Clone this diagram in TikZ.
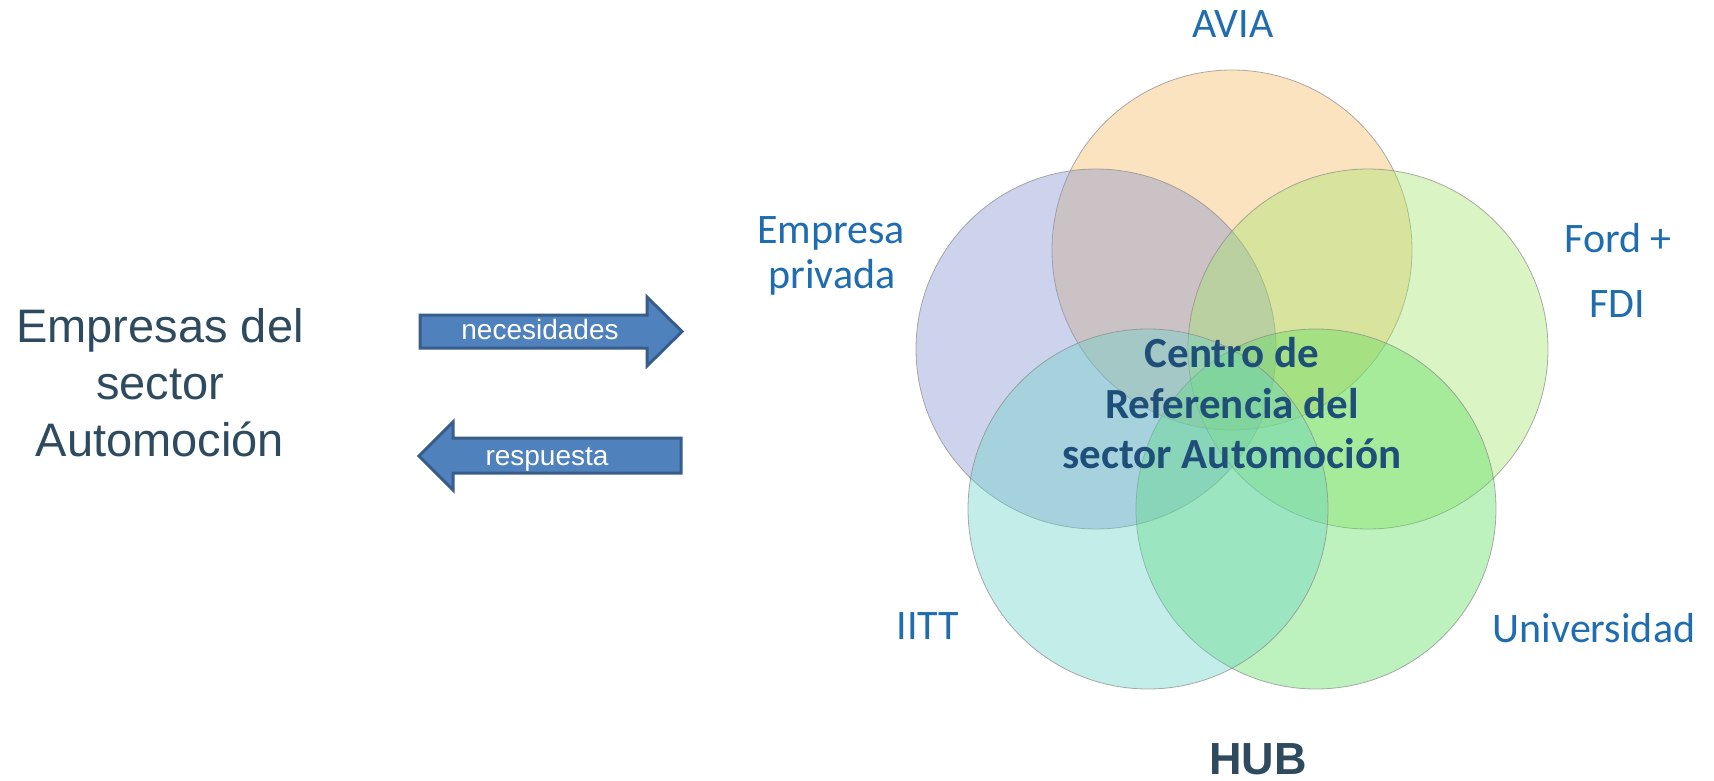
\documentclass[tikz,border=0pt]{standalone}
\usepackage{fontspec}
\newfontfamily\calib{Carlito}
\newfontfamily\arialf{Liberation Sans}
\definecolor{lblblue}{HTML}{1F6DB0}
\definecolor{ctrblue}{HTML}{1F4E79}
\definecolor{slate}{HTML}{2E4A5F}
\definecolor{arrfill}{HTML}{4F81BD}
\definecolor{arrline}{HTML}{385D8A}
\definecolor{cOrange}{HTML}{F8B860}
\definecolor{cLav}{HTML}{8291CF}
\definecolor{cLime}{HTML}{A2E669}
\definecolor{cTeal}{HTML}{69D2C5}
\definecolor{cGreen}{HTML}{5ADE5C}
\definecolor{rim}{HTML}{8A8A8A}
\begin{document}
\begin{tikzpicture}[x=1pt,y=-1pt,
  venn/.style={circle,minimum size=360pt,inner sep=0pt,draw=rim,line width=0.8pt,fill opacity=0.4,draw opacity=0.7},
  lbl/.style={anchor=base,text=lblblue,font=\calib\fontsize{42}{50}\selectfont,inner sep=0pt},
  ctr/.style={anchor=base,text=ctrblue,font=\calib\bfseries\fontsize{43}{50}\selectfont,inner sep=0pt},
  lefttxt/.style={anchor=base,text=slate,font=\arialf\fontsize{47}{56}\selectfont,inner sep=0pt},
  arr/.style={fill=arrfill,draw=arrline,line width=3pt,line join=miter},
  arrtxt/.style={anchor=base,text=white,font=\arialf\fontsize{28}{34}\selectfont,inner sep=0pt}]
\useasboundingbox (0,0) rectangle (1714,781);
% circles
\node[venn,fill=cOrange] (avia) at (1232,250) {};
\node[venn,fill=cLav] (emp) at (1096,349) {};
\node[venn,fill=cLime] (ford) at (1368,349) {};
\node[venn,fill=cGreen] (univ) at (1316,509) {};
\node[venn,fill=cTeal] (iitt) at (1148,509) {};
% labels
\node[lbl] (lAVIA) at (1233,38) {AVIA};
\node[lbl] (lEmp1) at (831,243) {Empresa};
\node[lbl] (lEmp2) at (832,288) {privada};
\node[lbl] (lFord1) at (1618,252) {Ford +};
\node[lbl] (lFord2) at (1617,317) {FDI};
\node[lbl] (lIITT) at (928,639) {IITT};
\node[lbl] (lUniv) at (1594,642) {Universidad};
% centre text
\node[ctr] (c1) at (1232,367) {Centro de};
\node[ctr] (c2) at (1232,418) {Referencia del};
\node[ctr] (c3) at (1232,468) {sector Automoción};
% left text
\node[lefttxt] (e1) at (160,342) {Empresas del};
\node[lefttxt] (e2) at (160,399) {sector};
\node[lefttxt] (e3) at (160,456) {Automoción};
% HUB
\node[anchor=base,text=slate,font=\arialf\bfseries\fontsize{45}{54}\selectfont,inner sep=0pt] (hub) at (1258,774) {HUB};
% arrows
\draw[arr] (420,315) -- (647,315) -- (647,297) -- (682,331.5) -- (647,366) -- (647,348) -- (420,348) -- cycle;
\node[arrtxt] (nec) at (540,339) {necesidades};
\draw[arr] (681,438) -- (453,438) -- (453,422) -- (419,456) -- (453,490) -- (453,473) -- (681,473) -- cycle;
\node[arrtxt] (resp) at (547,465) {respuesta};
\end{tikzpicture}
\end{document}
